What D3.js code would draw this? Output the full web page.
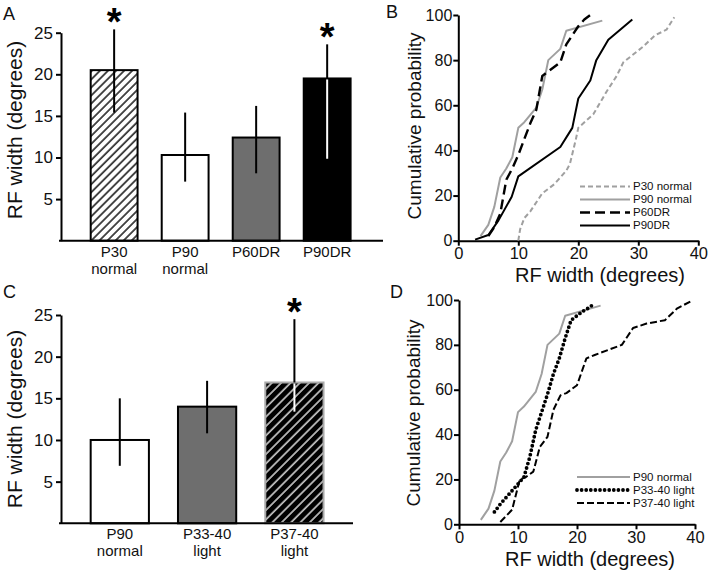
<!DOCTYPE html>
<html><head><meta charset="utf-8">
<script src="https://cdn.jsdelivr.net/npm/d3@7"></script>
<style>body{margin:0;background:#fff}svg{display:block}text{font-family:"Liberation Sans",Arial,sans-serif}</style>
</head><body><div id="chart"></div>
<script>
// ---------- DATA ----------
const catsA = [["P30","normal"],["P90","normal"],["P60DR"],["P90DR"]];
const meanA = [20.5, 10.3, 12.4, 19.5];
const errHiA = [25.4, 15.4, 16.2, 23.6];
const errLoA = [15.4, 7.1, 8.1, 9.85];
const sigA = [true, false, false, true];

const catsC = [["P90","normal"],["P33-40","light"],["P37-40","light"]];
const meanC = [10.0, 14.0, 16.9];
const errHiC = [15.0, 17.1, 24.5];
const errLoC = [6.9, 10.8, 13.4];
const sigC = [false, false, true];

const barTicks = [5, 10, 15, 20, 25];
const cdfTicksX = [0, 10, 20, 30, 40];
const cdfTicksY = [0, 20, 40, 60, 80, 100];

const p30normal = [[10,0],[10.3,5],[11,10],[12,13],[14,21],[16,25],[18,31],[18.6,34],[19.6,45],[20,50],[22.5,56],[24.7,66],[26.4,73],[27.5,79],[30.8,86],[32.8,91],[34.7,93.5],[36,99]];
const p90normal = [[3.7,2],[5,7],[6,15],[7,28],[8,32],[9,37],[10,50],[11,52.5],[13,59],[14,67],[15,80],[17,85],[18,93],[24,97.5]];
const p60DR = [[5,2],[6,6],[7,12],[8,27],[9,32],[10,38],[11,45],[12,52],[13,58],[14,73],[17,79],[18,87],[19,91],[20,95],[21,98],[22,100]];
const p90DR = [[2.8,0.5],[5,2.5],[6.7,9],[8.9,19.5],[10,28.5],[17,41.5],[19,50],[20,63],[22,71],[23,80],[25,89],[29,98]];
const p3340light = [[6,5.5],[7,9],[8,12],[9,15],[10,18],[11,21],[12,30],[12.5,36],[13,42],[14,50],[15,58],[16,67],[17,74],[18,83],[19,91],[20,93],[21,95],[22,96.5],[23,98.5]];
const p3740light = [[7,1],[9,6.5],[10.3,20],[11.3,21],[12.6,23.5],[13.7,34.5],[15,39],[16,51],[17.2,57.5],[18.2,58.5],[20,62],[21.6,74],[23,75.5],[27.6,80],[29.5,87.5],[31.8,89.5],[34.9,91],[37,96.3],[39.2,99.3]];

const legendB = ["P30 normal","P90 normal","P60DR","P90DR"];
const legendD = ["P90 normal","P33-40 light","P37-40 light"];

// ---------- DRAW ----------
const W = 710, H = 572;
const svg = d3.select("#chart").append("svg").attr("width", W).attr("height", H);
const GRAY = "#a0a0a0", DGRAY = "#6e6e6e", TXT = "#111";

const defs = svg.append("defs");
const pA = defs.append("pattern").attr("id","hatchA").attr("patternUnits","userSpaceOnUse")
  .attr("width",5.7).attr("height",10).attr("patternTransform","rotate(45)");
pA.append("rect").attr("width",5.7).attr("height",10).attr("fill","#fff");
pA.append("line").attr("x1",1).attr("x2",1).attr("y1",0).attr("y2",10).attr("stroke","#000").attr("stroke-width",1.4);
const pC = defs.append("pattern").attr("id","hatchC").attr("patternUnits","userSpaceOnUse")
  .attr("width",6.6).attr("height",10).attr("patternTransform","rotate(45)");
pC.append("rect").attr("width",6.6).attr("height",10).attr("fill","#000");
pC.append("line").attr("x1",1).attr("x2",1).attr("y1",0).attr("y2",10).attr("stroke","#fff").attr("stroke-width",1.3);

function styleAxis(g, fs){
  g.selectAll("path.domain").attr("stroke","#000").attr("stroke-width",2);
  g.selectAll(".tick line").attr("stroke","#000").attr("stroke-width",2);
  g.selectAll(".tick text").attr("font-size",fs).attr("fill",TXT)
    .attr("font-family",'"Liberation Sans",Arial,sans-serif');
}

function panelLetter(t, x, y){
  svg.append("text").attr("x",x).attr("y",y).attr("font-size",18).attr("fill",TXT).text(t);
}

function barPanel(cfg){
  const {cats, mean, hi, lo, sig, x, y, fills, strokes, innerWhite, axisX0, axisX1, titleY} = cfg;
  const g = svg.append("g");
  g.selectAll("rect.bar").data(mean).join("rect")
    .attr("x",(d,i)=>x(i)).attr("width",x.bandwidth())
    .attr("y",d=>y(d)).attr("height",d=>y(0)-y(d))
    .attr("fill",(d,i)=>fills[i]).attr("stroke",(d,i)=>strokes[i]).attr("stroke-width",2);
  mean.forEach((m,i)=>{
    const cx = x(i)+x.bandwidth()/2;
    if(innerWhite[i]){
      g.append("line").attr("x1",cx).attr("x2",cx).attr("y1",y(hi[i])).attr("y2",y(m)).attr("stroke","#000").attr("stroke-width",2);
      g.append("line").attr("x1",cx).attr("x2",cx).attr("y1",y(m)+1).attr("y2",y(lo[i])).attr("stroke","#fff").attr("stroke-width",2);
    } else {
      g.append("line").attr("x1",cx).attr("x2",cx).attr("y1",y(hi[i])).attr("y2",y(lo[i])).attr("stroke","#000").attr("stroke-width",2);
    }
    if(sig[i]){
      g.append("text").attr("x",cx).attr("y",y(hi[i])+6).attr("text-anchor","middle")
        .attr("font-size",38).attr("font-weight","bold").attr("fill","#000").text("*");
    }
    cats[i].forEach((s,k)=>{
      g.append("text").attr("text-anchor","middle").attr("font-size",15).attr("fill",TXT)
        .attr("x",cx).attr("y",y(0)+16+k*16.8).text(s);
    });
  });
  const ay = g.append("g").attr("transform",`translate(${axisX0+2},0)`)
    .call(d3.axisLeft(y).tickValues(barTicks).tickSize(5).tickSizeOuter(0).tickPadding(3));
  styleAxis(ay, 17);
  g.append("line").attr("x1",axisX0).attr("x2",axisX1).attr("y1",y(0)).attr("y2",y(0)).attr("stroke","#000").attr("stroke-width",2);
  g.append("text").attr("transform",`translate(22,${titleY}) rotate(-90)`).attr("text-anchor","middle")
    .attr("font-size",21).attr("fill",TXT).text("RF width (degrees)");
}

// Panel A
const yA = d3.scaleLinear().domain([0,25]).range([240.7, 32.7]);
const xA = d3.scaleBand().domain(d3.range(catsA.length)).range([62.3, 379]).paddingInner(0.34).paddingOuter(0.4);
barPanel({cats:catsA, mean:meanA, hi:errHiA, lo:errLoA, sig:sigA, x:xA, y:yA,
  fills:["url(#hatchA)","#fff",DGRAY,"#000"], strokes:["#000","#000","#000","#000"],
  innerWhite:[false,false,false,true], axisX0:59, axisX1:383, titleY:130});
panelLetter("A",3,20);

// Panel C
const yC = d3.scaleLinear().domain([0,25]).range([523.3, 315]);
const xC = d3.scaleBand().domain(d3.range(catsC.length)).range([61.6, 352.6]).paddingInner(0.333).paddingOuter(0.333);
barPanel({cats:catsC, mean:meanC, hi:errHiC, lo:errLoC, sig:sigC, x:xC, y:yC,
  fills:["#fff",DGRAY,"url(#hatchC)"], strokes:["#000","#000","#aaaaaa"],
  innerWhite:[false,false,true], axisX0:59, axisX1:353, titleY:419});
panelLetter("C",3,298);

function cdfPanel(cfg){
  const {x, y, series, legend, legX0, legX1, legY, titleX, titleYb, ylabX, ylabY} = cfg;
  const g = svg.append("g");
  const ax = g.append("g").attr("transform",`translate(0,${y(0)})`)
    .call(d3.axisBottom(x).tickValues(cdfTicksX).tickSize(5).tickSizeOuter(0).tickPadding(2));
  styleAxis(ax, 16.5);
  const ay = g.append("g").attr("transform",`translate(${x(0)},0)`)
    .call(d3.axisLeft(y).tickValues(cdfTicksY).tickSize(5).tickSizeOuter(0).tickPadding(1));
  styleAxis(ay, 16);
  const line = d3.line().x(d=>x(d[0])).y(d=>y(d[1]));
  series.forEach(s=>{
    g.append("path").datum(s.data).attr("d",line).attr("fill","none")
      .attr("stroke",s.color).attr("stroke-width",s.w).attr("stroke-dasharray",s.dash||null)
      .attr("stroke-linecap",s.cap||"butt").attr("stroke-linejoin","round");
  });
  series.forEach((s,i)=>{
    const ly = legY[i];
    g.append("line").attr("x1",legX0).attr("x2",legX1).attr("y1",ly).attr("y2",ly)
      .attr("stroke",s.color).attr("stroke-width",s.w).attr("stroke-dasharray",s.dash||null).attr("stroke-linecap",s.cap||"butt");
    g.append("text").attr("x",legX1+3).attr("y",ly+3.5).attr("font-size",11.5).attr("fill",TXT).text(legend[i]);
  });
  g.append("text").attr("x",titleX).attr("y",titleYb).attr("text-anchor","middle").attr("font-size",20).attr("fill",TXT).text("RF width (degrees)");
  g.append("text").attr("transform",`translate(${ylabX},${ylabY}) rotate(-90)`).attr("text-anchor","middle")
    .attr("font-size",19).attr("fill",TXT).text("Cumulative probability");
}

// Panel B
const xB = d3.scaleLinear().domain([0,40]).range([458.3, 698.3]);
const yB = d3.scaleLinear().domain([0,100]).range([240.7, 15]);
cdfPanel({x:xB, y:yB, legend:legendB, legX0:580, legX1:630, legY:[186.5,199.5,212.5,225.5],
  titleX:600, titleYb:282, ylabX:421, ylabY:126,
  series:[
    {data:p30normal, color:GRAY, w:2, dash:"5,3"},
    {data:p90normal, color:GRAY, w:2},
    {data:p60DR, color:"#000", w:2.4, dash:"10,5"},
    {data:p90DR, color:"#000", w:2}
  ]});
panelLetter("B",386,18);

// Panel D
const xD = d3.scaleLinear().domain([0,40]).range([459, 695]);
const yD = d3.scaleLinear().domain([0,100]).range([524.3, 300]);
cdfPanel({x:xD, y:yD, legend:legendD, legX0:577, legX1:630, legY:[477,490,503],
  titleX:590, titleYb:565.5, ylabX:420, ylabY:413,
  series:[
    {data:p90normal, color:GRAY, w:2},
    {data:p3340light, color:"#000", w:3.8, dash:"0,4.6", cap:"round"},
    {data:p3740light, color:"#000", w:2, dash:"7,3"}
  ]});
panelLetter("D",390,298);
</script></body></html>
